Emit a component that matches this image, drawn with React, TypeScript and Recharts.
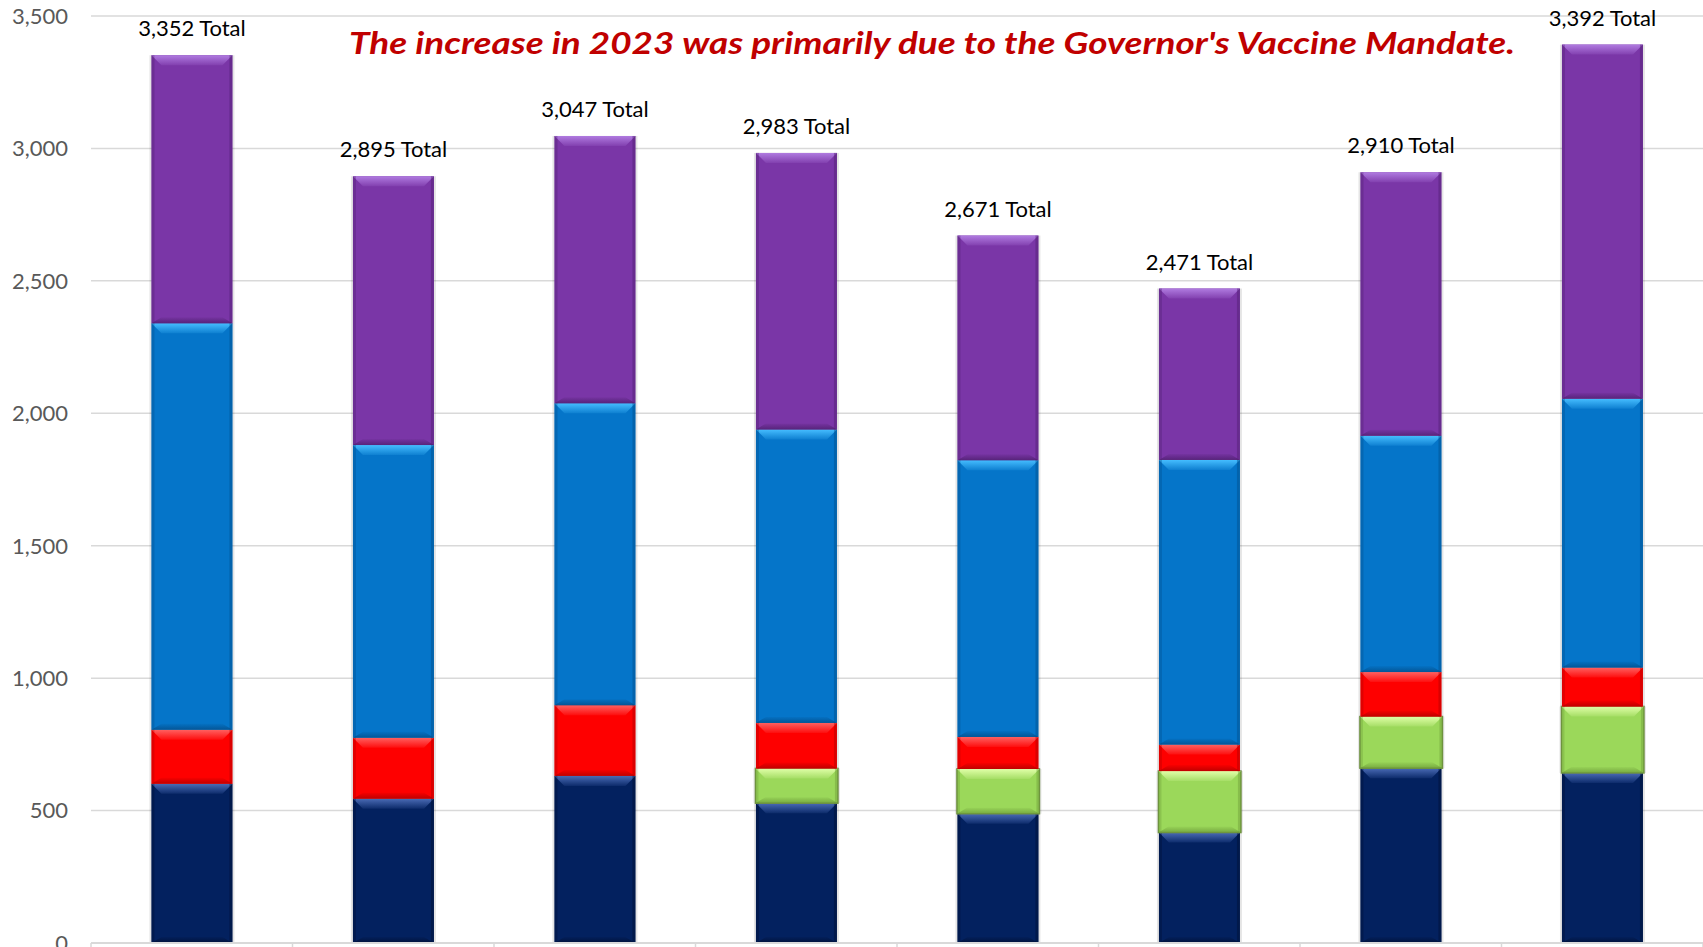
import React from 'react';
import { BarChart, Bar, XAxis, YAxis, CartesianGrid, LabelList } from 'recharts';

const years = ['2016', '2017', '2018', '2019', '2020', '2021', '2022', '2023'];
const navy = [601, 545, 631, 528, 488, 417, 660, 642];
const green = [0, 0, 0, 131, 169, 232, 195, 251];
const red = [204, 230, 267, 172, 121, 100, 168, 147];
const blue = [1535, 1105, 1140, 1108, 1045, 1075, 892, 1015];
const purple = [1012, 1015, 1009, 1044, 848, 647, 995, 1337];
const totals = [3352, 2895, 3047, 2983, 2671, 2471, 2910, 3392];
const yTicks = [0, 500, 1000, 1500, 2000, 2500, 3000, 3500];
const title = "The increase in 2023 was primarily due to the Governor's Vaccine Mandate.";

const data = years.map((year, i) => ({
  year,
  navy: navy[i],
  green: green[i],
  red: red[i],
  blue: blue[i],
  purple: purple[i],
  total: totals[i],
}));

const W = 1703;
const H = 947;
const Y_W = 91;
const BAND = (W - Y_W) / years.length;

type Pal = { base: string; light: string; dark: string; stroke?: string; key: string };

const PAL: Record<string, Pal> = {
  navy: { key: 'navy', base: '#03215F', light: '#4A6BB5', dark: '#010F33' },
  green: { key: 'green', base: '#9BD85A', light: '#E0FFA8', dark: '#6E9E3A', stroke: '#6F9140' },
  red: { key: 'red', base: '#FE0000', light: '#FF6060', dark: '#B00000' },
  blue: { key: 'blue', base: '#0575C9', light: '#45BDFF', dark: '#034E8A' },
  purple: { key: 'purple', base: '#7A36A7', light: '#B07BE0', dark: '#4F1F70' },
};

function BevelBar(props: any) {
  const { x, y, width, height, pal } = props as { x: number; y: number; width: number; height: number; pal: Pal };
  if (!height || height <= 0.5) return null;
  const b = Math.min(10, height / 2.5);
  const s = Math.min(3, width / 10);
  const extra = pal.stroke ? 1.5 : 0;
  const xx = x - (pal.stroke ? 0.5 : 0);
  const ww = width + extra;
  return (
    <g>
      <rect x={xx - 2} y={y} width={ww + 4} height={height} fill="rgba(0,0,0,0.10)" />
      <rect x={xx} y={y} width={ww} height={height} fill={pal.base} stroke={pal.stroke || 'none'} strokeWidth={pal.stroke ? 1.5 : 0} />
      <polygon
        points={`${xx},${y} ${xx + ww},${y} ${xx + ww - b},${y + b} ${xx + b},${y + b}`}
        fill={`url(#top-${pal.key})`}
      />
      <polygon
        points={`${xx},${y + height} ${xx + ww},${y + height} ${xx + ww - b},${y + height - b * 0.6} ${xx + b},${y + height - b * 0.6}`}
        fill={`url(#bot-${pal.key})`}
      />
      <rect x={xx} y={y} width={s} height={height} fill={pal.dark} opacity={0.35} />
      <rect x={xx + ww - s} y={y} width={s} height={height} fill={pal.dark} opacity={0.45} />
    </g>
  );
}

function XTick(props: any) {
  const { x, y, index } = props;
  const left = x - BAND / 2;
  return (
    <g>
      <line x1={left} x2={left} y1={y} y2={y + 5} stroke="#d9d9d9" strokeWidth={1.5} />
      {index === years.length - 1 && (
        <line x1={x + BAND / 2} x2={x + BAND / 2} y1={y} y2={y + 5} stroke="#d9d9d9" strokeWidth={1.5} />
      )}
    </g>
  );
}

const series: (keyof typeof PAL)[] = ['navy', 'green', 'red', 'blue', 'purple'];

export default function App() {
  return (
    <div style={{ position: 'absolute', left: 0, top: 0, width: W, height: H, background: '#fff' }}>
      <BarChart
        width={W}
        height={H}
        data={data}
        margin={{ top: 16, right: 0, bottom: 0, left: 0 }}
        barCategoryGap="30%"
      >
        <defs>
          {series.map((k) => (
            <React.Fragment key={k}>
              <linearGradient id={`top-${k}`} x1="0" y1="0" x2="0" y2="1">
                <stop offset="0%" stopColor={PAL[k].light} stopOpacity={1} />
                <stop offset="100%" stopColor={PAL[k].light} stopOpacity={0.15} />
              </linearGradient>
              <linearGradient id={`bot-${k}`} x1="0" y1="0" x2="0" y2="1">
                <stop offset="0%" stopColor={PAL[k].dark} stopOpacity={0.1} />
                <stop offset="100%" stopColor={PAL[k].dark} stopOpacity={0.8} />
              </linearGradient>
            </React.Fragment>
          ))}
        </defs>
        <CartesianGrid vertical={false} stroke="#d9d9d9" strokeWidth={1.5} />
        <XAxis
          dataKey="year"
          height={4}
          tickSize={0}
          tickMargin={0}
          tickLine={false}
          axisLine={{ stroke: '#d9d9d9', strokeWidth: 2 }}
          tick={<XTick />}
          interval={0}
        />
        <YAxis
          width={Y_W}
          domain={[0, 3500]}
          ticks={yTicks}
          interval={0}
          tickSize={0}
          tickMargin={23}
          axisLine={false}
          tickLine={false}
          tickFormatter={(v: number) => v.toLocaleString('en-US')}
          tick={{ fill: '#595959', fontSize: 22, fontFamily: 'Lato' }}
        />
        {series.map((k) => (
          <Bar
            key={k}
            dataKey={k}
            stackId="a"
            isAnimationActive={false}
            fill={PAL[k].base}
            shape={(p: any) => <BevelBar {...p} pal={PAL[k]} />}
          >
            {k === 'purple' && (
              <LabelList
                dataKey="total"
                position="top"
                offset={19}
                formatter={(v: any) => `${Number(v).toLocaleString('en-US')} Total`}
                fill="#000000"
                fontSize={22}
                fontFamily="Lato"
              />
            )}
          </Bar>
        ))}
      </BarChart>
      <svg
        width={W}
        height={H}
        style={{ position: 'absolute', left: 0, top: 0, pointerEvents: 'none' }}
      >
        <text
          x={349}
          y={54}
          fill="#C00000"
          fontFamily="Lato"
          fontWeight="bold"
          fontStyle="italic"
          fontSize={31}
          textLength={1166}
          lengthAdjust="spacingAndGlyphs"
        >
          {title}
        </text>
      </svg>
    </div>
  );
}
